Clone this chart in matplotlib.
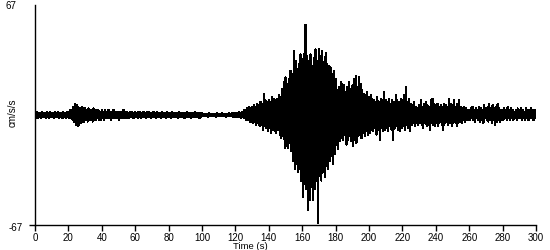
import numpy as np
import matplotlib
matplotlib.use("Agg")
import matplotlib.pyplot as plt

# Envelope of the record, one value per second (t = 0..300 s), in cm/s/s
upper = [
    1, 2, 1, 1, 2, 1, 1, 2, 1, 2,
    1, 1, 2, 1, 2, 1, 1, 2, 1, 2,
    2, 3, 3, 5, 7, 6, 5, 4, 5, 4,
    4, 3, 4, 3, 3, 4, 3, 3, 3, 2,
    3, 2, 3, 2, 3, 2, 2, 3, 2, 2,
    2, 2, 2, 3, 2, 2, 1, 2, 2, 1,
    2, 1, 2, 2, 1, 2, 1, 2, 2, 1,
    1, 2, 1, 2, 1, 1, 2, 1, 1, 2,
    1, 1, 2, 1, 1, 1, 2, 1, 1, 1,
    1, 2, 1, 1, 1, 1, 2, 1, 1, 1,
    1, 0.6, 0.8, 0.6, 1, 0.6, 0.8, 0.6, 0.8, 1,
    0.6, 0.8, 1, 0.6, 0.8, 0.6, 1, 0.8, 1, 1.5,
    1.5, 1, 2, 1.5, 2, 3, 3, 4, 5, 4,
    5, 6, 5, 7, 6, 8, 7, 13, 9, 8,
    9, 8, 11, 10, 9, 10, 12, 11, 16, 20,
    23, 19, 22, 27, 25, 39, 33, 28, 31, 37,
    34, 37, 55, 36, 33, 37, 30, 35, 40, 33,
    40, 36, 39, 32, 38, 31, 30, 29, 25, 27,
    22, 15, 17, 20, 19, 18, 14, 17, 20, 16,
    18, 22, 24, 17, 23, 19, 15, 13, 12, 14,
    11, 12, 10, 9, 8, 11, 8, 10, 9, 14,
    9, 8, 10, 7, 9, 8, 12, 9, 8, 10,
    9, 12, 17, 8, 10, 7, 6, 8, 5, 4,
    6, 9, 5, 7, 8, 6, 5, 9, 10, 7,
    6, 7, 5, 6, 5, 7, 6, 5, 10, 7,
    6, 9, 5, 7, 9, 5, 4, 5, 4, 3,
    3, 4, 5, 3, 4, 3, 5, 4, 3, 6,
    4, 5, 7, 3, 6, 4, 5, 7, 4, 3,
    3, 4, 3, 5, 3, 4, 3, 2, 3, 4,
    3, 4, 3, 2, 4, 3, 3, 4, 3, 3,
    3,
]
lower = [
    -1, -2, -1, -2, -1, -1, -2, -1, -2, -1,
    -1, -2, -1, -1, -2, -1, -2, -1, -2, -1,
    -2, -2, -3, -4, -6, -7, -6, -5, -4, -4,
    -3, -4, -3, -3, -4, -3, -3, -2, -3, -3,
    -2, -3, -2, -2, -2, -3, -2, -2, -2, -2,
    -3, -2, -2, -2, -2, -2, -2, -1, -2, -2,
    -1, -2, -1, -2, -1, -1, -2, -1, -1, -2,
    -1, -1, -2, -1, -1, -2, -1, -1, -2, -1,
    -1, -2, -1, -1, -1, -2, -1, -1, -1, -2,
    -1, -1, -1, -2, -1, -1, -1, -1, -2, -1,
    -0.6, -0.8, -0.6, -1, -0.6, -0.8, -0.6, -0.8, -1, -0.6,
    -0.8, -0.6, -0.8, -0.6, -1, -0.6, -0.8, -0.6, -1, -1,
    -1, -1.5, -1, -2, -1.5, -2, -3, -3, -4, -4,
    -5, -4, -6, -5, -7, -6, -9, -7, -8, -10,
    -8, -11, -9, -10, -11, -9, -12, -14, -13, -20,
    -19, -20, -17, -22, -28, -33, -30, -35, -33, -40,
    -50, -42, -45, -58, -52, -44, -52, -45, -40, -66,
    -37, -40, -35, -38, -31, -33, -28, -25, -30, -24,
    -18, -21, -16, -14, -15, -12, -18, -15, -13, -16,
    -19, -15, -17, -13, -12, -14, -11, -13, -10, -12,
    -11, -9, -10, -8, -12, -9, -15, -8, -10, -9,
    -8, -10, -7, -9, -15, -8, -7, -9, -10, -8,
    -7, -9, -6, -8, -10, -6, -5, -7, -5, -6,
    -5, -6, -8, -5, -7, -6, -9, -5, -6, -7,
    -5, -7, -4, -6, -9, -5, -4, -6, -5, -7,
    -5, -4, -7, -5, -4, -5, -3, -4, -3, -3,
    -3, -2, -3, -4, -2, -3, -4, -3, -5, -2,
    -3, -4, -3, -5, -3, -6, -4, -3, -4, -3,
    -3, -2, -3, -2, -3, -2, -3, -2, -3, -2,
    -2, -3, -2, -3, -2, -3, -2, -2, -3, -2,
    -2,
]
seconds = np.arange(len(upper))
x_ticks = list(range(0, 301, 20))
y_limit = 67

# trace alternates between the upper and lower envelope values
t = np.empty(2 * len(seconds))
v = np.empty(2 * len(seconds))
t[0::2] = seconds
t[1::2] = seconds + 0.5
v[0::2] = upper
v[1::2] = lower
keep = t <= 300

W, H = 550, 250
fig = plt.figure(figsize=(W / 100, H / 100), dpi=100)
ax = fig.add_axes([35 / W, (H - 225) / H, (536 - 35) / W, 220 / H])
ax.plot(t[keep], v[keep], color="black", linewidth=0.8, antialiased=False)

ax.set_xlim(0, 300)
ax.set_ylim(-y_limit, y_limit)
ax.set_xticks(x_ticks)
ax.set_xticklabels([str(x) for x in x_ticks], fontsize=7, family="Liberation Sans")
ax.set_yticks([-y_limit])
ax.set_yticklabels([""])
ax.tick_params(axis="both", direction="out", length=4, width=1, color="black", pad=1.5)
for s in ["top", "right"]:
    ax.spines[s].set_visible(False)
for s in ["left", "bottom"]:
    ax.spines[s].set_linewidth(1)
    ax.spines[s].set_color("black")

fig.text(5 / W, 1 - 6 / H, str(y_limit), fontsize=7, family="Liberation Sans",
         ha="left", va="center")
fig.text(9 / W, 1 - 228 / H, str(-y_limit), fontsize=7, family="Liberation Sans",
         ha="left", va="center")
fig.text(13 / W, 1 - 113 / H, "cm/s/s", fontsize=7, family="Liberation Sans",
         rotation=90, ha="center", va="center")
fig.text(250 / W, 1 - 246.5 / H, "Time (s)", fontsize=6.8, family="Liberation Sans",
         ha="center", va="center")

fig.savefig("out.png", dpi=100, facecolor="white")
